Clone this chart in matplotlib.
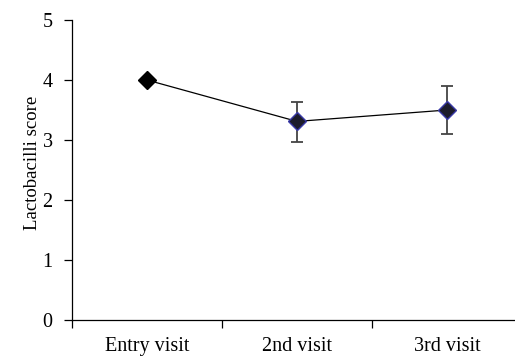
import numpy as np
import matplotlib.pyplot as plt

visits = ["Entry visit", "2nd visit", "3rd visit"]
score = [4.0, 3.31, 3.5]
err_lo = [0.0, 0.34, 0.40]
err_hi = [0.0, 0.32, 0.40]

plt.rcParams['font.family'] = ['Liberation Serif', 'DejaVu Serif']

fig = plt.figure(figsize=(5.15, 3.58), dpi=100)
ax = fig.add_axes([0.1398, 0.1061, 0.8738, 0.8380])

x = np.arange(len(visits))
ax.plot(x, score, color='black', lw=0.9, zorder=2)
ax.errorbar(x[1:], score[1:], yerr=[err_lo[1:], err_hi[1:]], fmt='none',
            ecolor='#444444', elinewidth=1.3, capsize=4.5, capthick=1.3, zorder=1)
ax.plot(x[:1], score[:1], 'D', ms=9, mfc='black', mec='black', zorder=3)
ax.plot(x[1:], score[1:], 'D', ms=9, mfc='#1c1c2c', mec='#3a3aa8', mew=1.0, zorder=3)

ax.set_xlim(-0.5, 2.5)
ax.set_ylim(0, 5)
ax.set_xticks([-0.5, 0.5, 1.5, 2.5])
ax.set_xticklabels([])
ax.set_xticks(x, minor=True)
ax.set_xticklabels(visits, minor=True)
ax.tick_params(axis='x', which='minor', length=0, pad=12, labelsize=14.5)
ax.tick_params(axis='x', which='major', length=6, width=0.9)
ax.set_yticks(range(6))
ax.tick_params(axis='y', length=6, width=0.9, labelsize=14.5, pad=8)
ax.set_ylabel("Lactobacilli score", fontsize=13.5)
ax.yaxis.set_label_coords(-0.068, 0.525)

for s in ['top', 'right']:
    ax.spines[s].set_visible(False)
for s in ['left', 'bottom']:
    ax.spines[s].set_linewidth(0.9)
ax.spines['bottom'].set_clip_on(False)

fig.savefig('out.png', dpi=100)
